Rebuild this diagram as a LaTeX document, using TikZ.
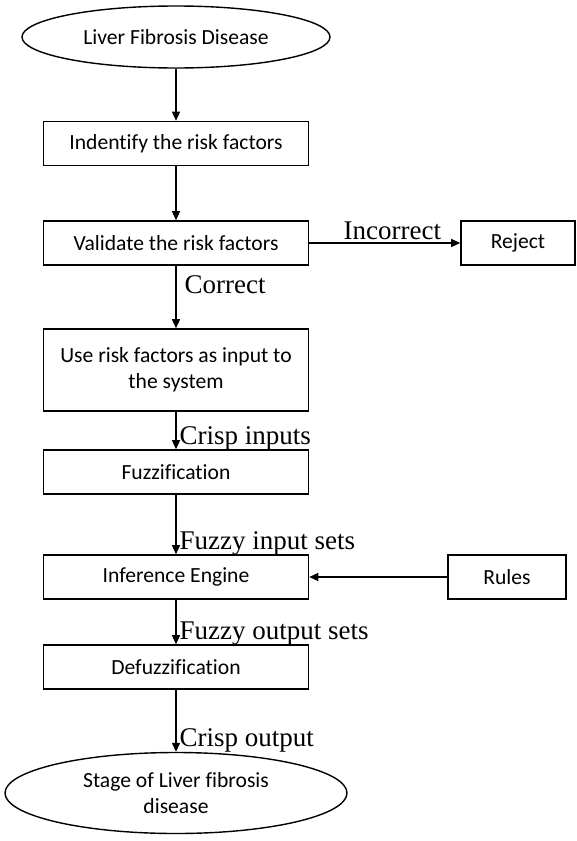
\documentclass[tikz,border=0pt]{standalone}
\usepackage{fontspec}
\setmainfont{Carlito}[Ligatures=NoCommon]
\newfontfamily\labelfont{Liberation Serif}
\usetikzlibrary{shapes.geometric,arrows.meta}

\begin{document}
\begin{tikzpicture}[
  x=1pt,y=-1pt,
  every node/.style={inner sep=2pt},
  stepbox/.style={rectangle,draw=black,line width=1.6pt,minimum width=265pt,minimum height=44pt,align=center,font=\fontsize{21.6}{26}\selectfont},
  sidebox/.style={stepbox,minimum width=114pt},
  term/.style={ellipse,draw=black,line width=1.4pt,align=center,inner sep=0pt,font=\fontsize{21.6}{26}\selectfont},
  arr/.style={-{Triangle[length=9pt,width=8pt]},line width=1.3pt},
  lbl/.style={font=\labelfont\fontsize{27}{30}\selectfont,inner sep=0pt},
]
\useasboundingbox (0,0) rectangle (576,841);
% ================= main column =================
\node[term,minimum width=308pt,minimum height=62pt] (start) at (176,37) {Liver Fibrosis Disease};
\node[stepbox] (ident) at (176,143.5) {Indentify the risk factors};
\node[stepbox] (valid) at (176,243) {Validate the risk factors};
\node[stepbox,minimum height=82pt] (use) at (176,370) {Use risk factors as input to\\the system};
\node[stepbox] (fuzz) at (176,472) {Fuzzification};
\node[stepbox] (infer) at (176,577) {Inference Engine};
\node[stepbox] (defuzz) at (176,667) {Defuzzification};
\node[term,minimum width=342pt,minimum height=81pt] (stage) at (176,793) {Stage of Liver fibrosis\\disease};
% ================= side boxes =================
\node[sidebox] (reject) at (518,243) {Reject};
\node[sidebox,minimum width=118pt] (rules) at (507,577) {Rules};
% ================= arrows =================
\draw[arr] (start) -- (ident);
\draw[arr] (ident) -- (valid);
\draw[arr] (valid) -- node[lbl,above,pos=0.55,yshift=3pt] {Incorrect} (reject);
\draw[arr] (valid) -- node[lbl,right,pos=0.3,xshift=8pt] {Correct} (use);
\draw[arr] (use) -- node[lbl,anchor=base west,pos=1,xshift=3pt,yshift=5pt] {Crisp inputs} (fuzz);
\draw[arr] (fuzz) -- node[lbl,anchor=base west,pos=1,xshift=3pt,yshift=5pt] {Fuzzy input sets} (infer);
\draw[arr] (rules) -- (infer);
\draw[arr] (infer) -- node[lbl,anchor=base west,pos=1,xshift=3pt,yshift=5pt] {Fuzzy output sets} (defuzz);
\draw[arr] (defuzz) -- node[lbl,anchor=base west,pos=1,xshift=3pt,yshift=5pt] {Crisp output} (stage);
\end{tikzpicture}
\end{document}
